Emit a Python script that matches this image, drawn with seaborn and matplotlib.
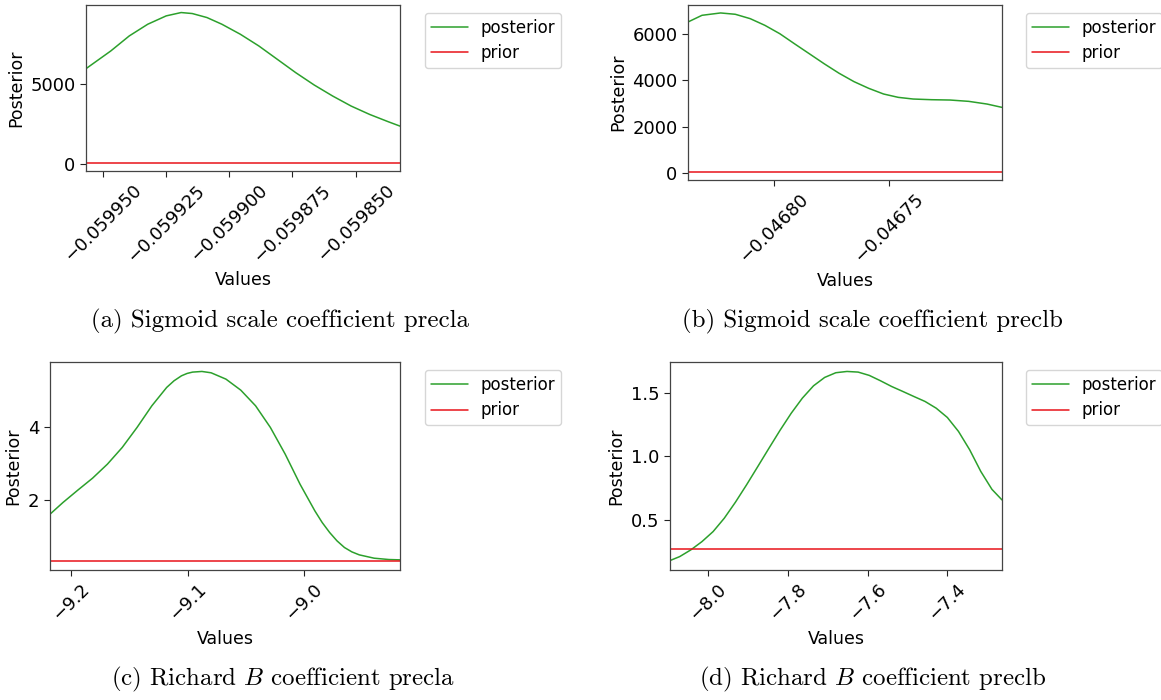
import matplotlib
matplotlib.use("Agg")
import matplotlib.pyplot as plt
import seaborn as sns
import numpy as np

# ---------------- data ----------------
# (a) Sigmoid scale coefficient precla
a_x = [-0.0599566, -0.0599468, -0.0599395, -0.0599322, -0.0599249, -0.0599190,
       -0.0599146, -0.0599088, -0.0599029, -0.0598956, -0.0598883, -0.0598810,
       -0.0598737, -0.0598664, -0.0598591, -0.0598518, -0.0598445, -0.0598371,
       -0.0598325]
a_post = [5937, 7042, 7979, 8708, 9229, 9437, 9375, 9125, 8708, 8083, 7354, 6521,
          5687, 4917, 4229, 3604, 3083, 2625, 2354]
a_prior_x = [-0.0599566, -0.0598325]
a_prior = [25, 25]

# (b) Sigmoid scale coefficient preclb
b_x = [-0.0468376, -0.0468315, -0.0468234, -0.0468170, -0.0468105, -0.0468041,
       -0.0467976, -0.0467912, -0.0467847, -0.0467782, -0.0467718, -0.0467653,
       -0.0467589, -0.0467524, -0.0467460, -0.0467395, -0.0467315, -0.0467234,
       -0.0467153, -0.0467073, -0.0467008]
b_post = [6504, 6791, 6892, 6835, 6647, 6360, 6000, 5568, 5137, 4705, 4302, 3942,
          3655, 3410, 3266, 3194, 3165, 3151, 3094, 2978, 2835]
b_prior_x = [-0.0468376, -0.0467008]
b_prior = [57, 57]

# (c) Richard B coefficient precla
c_x = [-9.2181, -9.2070, -9.1943, -9.1816, -9.1689, -9.1562, -9.1435, -9.1308,
       -9.1181, -9.1118, -9.1054, -9.1006, -9.0959, -9.0879, -9.0800, -9.0673,
       -9.0546, -9.0419, -9.0292, -9.0165, -9.0038, -8.9911, -8.9848, -8.9784,
       -8.9721, -8.9657, -8.9594, -8.9530, -8.9403, -8.9276, -8.9181]
c_post = [1.594, 1.917, 2.258, 2.590, 2.977, 3.438, 3.991, 4.590, 5.097, 5.281,
          5.419, 5.484, 5.521, 5.539, 5.502, 5.327, 5.023, 4.590, 3.991, 3.253,
          2.424, 1.687, 1.364, 1.088, 0.857, 0.673, 0.553, 0.470, 0.378, 0.341,
          0.332]
c_prior_x = [-9.2181, -8.9181]
c_prior = [0.313, 0.313]

# (d) Richard B coefficient preclb
d_x = [-8.0961, -8.0718, -8.0438, -8.0159, -7.9879, -7.9599, -7.9319, -7.9039,
       -7.8759, -7.8479, -7.8199, -7.7919, -7.7639, -7.7359, -7.7079, -7.6799,
       -7.6519, -7.6239, -7.5960, -7.5680, -7.5400, -7.5120, -7.4840, -7.4560,
       -7.4280, -7.4000, -7.3720, -7.3440, -7.3160, -7.2880, -7.2628]
d_post = [0.180, 0.211, 0.264, 0.329, 0.408, 0.513, 0.639, 0.776, 0.919, 1.063,
          1.205, 1.339, 1.458, 1.555, 1.621, 1.658, 1.668, 1.663, 1.637, 1.595,
          1.550, 1.511, 1.471, 1.432, 1.379, 1.306, 1.196, 1.052, 0.881, 0.740,
          0.657]
d_prior_x = [-8.0961, -7.2628]
d_prior = [0.269, 0.269]

captions = [
    "(a) Sigmoid scale coefficient precla",
    "(b) Sigmoid scale coefficient preclb",
    "(c) Richard $B$ coefficient precla",
    "(d) Richard $B$ coefficient preclb",
]
x_label = "Values"
y_label = "Posterior"
series_labels = ["posterior", "prior"]

# ---------------- styling ----------------
sns.set_style("ticks", {"axes.edgecolor": "#444444", "xtick.color": "#222222",
                        "ytick.color": "#222222", "text.color": "black",
                        "axes.labelcolor": "black"})
plt.rcParams["font.family"] = ["DejaVu Sans"]
plt.rcParams["mathtext.fontset"] = "cm"
plt.rcParams["xtick.labelcolor"] = "black"
plt.rcParams["ytick.labelcolor"] = "black"
FS = 13

W, H = 1161, 700
fig = plt.figure(figsize=(W / 100, H / 100), dpi=100)


def add_ax(x0, y0, x1, y1):
    return fig.add_axes([x0 / W, 1 - y1 / H, (x1 - x0) / W, (y1 - y0) / H])


panels = [
    (a_x, a_post, a_prior_x, a_prior, (86, 5, 400, 171), (425, 13), [-0.059950, -0.059925, -0.059900, -0.059875, -0.059850], None),
    (b_x, b_post, b_prior_x, b_prior, (688, 5, 1002, 180), (1026, 13), [-0.04680, -0.04675], [0, 2000, 4000, 6000]),
    (c_x, c_post, c_prior_x, c_prior, (50, 362, 400, 570), (425, 370), [-9.2, -9.1, -9.0], [2, 4]),
    (d_x, d_post, d_prior_x, d_prior, (670, 362, 1002, 570), (1026, 370), [-8.0, -7.8, -7.6, -7.4], [0.5, 1.0, 1.5]),
]

green = "#2ca02c"
red = "#e8141a"

for i, (xs, post, pxs, prior, box, leg, xt, yt) in enumerate(panels):
    ax = add_ax(*box)
    sns.lineplot(x=xs, y=post, color=green, linewidth=1.1, label=series_labels[0], ax=ax)
    sns.lineplot(x=pxs, y=prior, color=red, linewidth=1.1, label=series_labels[1], ax=ax)
    ax.set_xlim(min(xs), max(xs))
    ax.set_xticks(xt)
    if i == 0:
        ax.set_xticklabels([f"{v:.6f}".replace("-", "\u2212") for v in xt])
        ax.set_yticks([0, 5000])
    elif i == 1:
        ax.set_xticklabels([f"{v:.5f}".replace("-", "\u2212") for v in xt])
        ax.set_yticks(yt)
    else:
        ax.set_xticklabels([f"{v:.1f}".replace("-", "\u2212") for v in xt])
        ax.set_yticks(yt)
        ax.set_yticklabels([f"{v:g}" if i == 2 else f"{v:.1f}" for v in yt])
    ax.tick_params(axis="x", rotation=45, labelsize=FS, length=4, width=0.8)
    ax.tick_params(axis="y", labelsize=FS, length=4, width=0.8)
    for s in ax.spines.values():
        s.set_linewidth(0.9)
    ax.set_xlabel(x_label, fontsize=FS - 0.5)
    ax.set_ylabel(y_label, fontsize=FS - 0.5)
    lx, ly = leg
    ax.legend(loc="upper left", bbox_to_anchor=(lx / W, 1 - ly / H),
              bbox_transform=fig.transFigure, fontsize=FS - 1, frameon=True,
              borderaxespad=0, handlelength=2.2, handletextpad=0.8,
              labelspacing=0.45, borderpad=0.35)

cap_pos = [(280, 321), (872, 321), (283, 679), (873, 679)]
for (cx, cy), txt in zip(cap_pos, captions):
    fig.text(cx / W, 1 - cy / H, txt, ha="center", va="center",
             family="cmr10", fontsize=17.9)

fig.savefig("out.png", dpi=100)
